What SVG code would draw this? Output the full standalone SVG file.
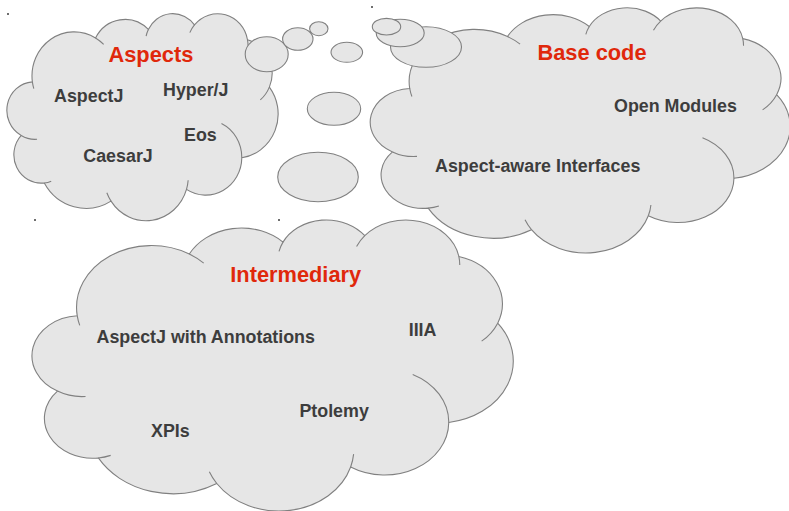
<svg xmlns="http://www.w3.org/2000/svg" xmlns:xlink="http://www.w3.org/1999/xlink" width="789" height="511" viewBox="0 0 789 511">
  <style>
    .shape { fill: #e6e6e6; stroke: #808080; stroke-width: 1.1; vector-effect: non-scaling-stroke; }
    .seam { fill: none; stroke: #808080; stroke-width: 1.1; vector-effect: non-scaling-stroke; }
    .bubble { fill: #e6e6e6; stroke: #808080; stroke-width: 1.1; }
    .title { font-family: "Liberation Sans", Arial, sans-serif; font-weight: bold; font-size: 21.8px; fill: #e0280b; }
    .item { font-family: "Liberation Sans", Arial, sans-serif; font-weight: bold; font-size: 17.85px; fill: #3d3d3d; }
    .mark { fill: #6e6e6e; }
  </style>
  <defs>
    <!-- cloud outline in a 43200 x 43200 unit box -->
    <path id="cloud" class="shape" d="M3900 14370 A6753 9190 0 0 1 14006 5203 A5333 7267 0 0 1 22457 3433 A4365 5945 0 0 1 29834 2482 A4857 6595 0 0 1 38319 5577 A5333 7273 0 0 1 41820 15461 A6775 9220 0 0 1 37406 30205 A5785 7867 0 0 1 28558 36815 A6752 9215 0 0 1 16483 39266 A7720 10543 0 0 1 5807 35471 A4360 5918 0 0 1 2116 25549 A4345 5945 0 0 1 3900 14370 Z"/>
    <!-- short lobe continuations inside the cloud -->
    <path id="cloud-seams" class="seam" d="M4649 26346 A4345 5945 0 0 1 2116 25549 M6915 35090 A4360 5918 0 0 1 5807 35471 M16483 39266 A6752 9215 0 0 1 15814 37525 M28825 34906 A6752 9215 0 0 1 28558 36815 M34155 23070 A5785 7867 0 0 1 37406 30205 M41820 15461 A5333 7273 0 0 1 40371 18137 M38319 5577 A4857 6595 0 0 1 38396 6840 M29092 4094 A4857 6595 0 0 1 29834 2482 M22098 4822 A4365 5945 0 0 1 22457 3433 M14006 5203 A6753 9190 0 0 1 15306 6551 M4127 15789 A6753 9190 0 0 1 3900 14370"/>
  </defs>

  <rect width="789" height="511" fill="#ffffff"/>

  <!-- corner marks -->
  <rect class="mark" x="7" y="13" width="2" height="2"/>
  <rect class="mark" x="34" y="219" width="2" height="2"/>
  <rect class="mark" x="278" y="219" width="2" height="2"/>
  <rect class="mark" x="371" y="6" width="2" height="2"/>

  <g id="aspects">
    <use xlink:href="#cloud" transform="translate(8 13) scale(0.00625 0.0047917)"/>
    <use xlink:href="#cloud-seams" transform="translate(8 13) scale(0.00625 0.0047917)"/>
    <text class="title" x="108.5" y="61.7">Aspects</text>
    <text class="item" x="54" y="101.7">AspectJ</text>
    <text class="item" x="163" y="96">Hyper/J</text>
    <text class="item" x="184" y="140.7">Eos</text>
    <text class="item" x="83.3" y="161.7">CaesarJ</text>
  </g>

  <g id="base-code">
    <use xlink:href="#cloud" transform="translate(372 7) scale(0.0096759 0.0056713)"/>
    <use xlink:href="#cloud-seams" transform="translate(372 7) scale(0.0096759 0.0056713)"/>
    <text class="title" x="537.5" y="60">Base code</text>
    <text class="item" x="614" y="112.3">Open Modules</text>
    <text class="item" x="435" y="171.7">Aspect-aware Interfaces</text>
  </g>

  <g id="intermediary">
    <use xlink:href="#cloud" transform="translate(34 219) scale(0.011088 0.0067361)"/>
    <use xlink:href="#cloud-seams" transform="translate(34 219) scale(0.011088 0.0067361)"/>
    <text class="title" x="230.3" y="281.7">Intermediary</text>
    <text class="item" x="96.5" y="343.3">AspectJ with Annotations</text>
    <text class="item" x="408.7" y="336">IIIA</text>
    <text class="item" x="299.4" y="416.7">Ptolemy</text>
    <text class="item" x="151" y="436.7">XPIs</text>
  </g>

  <!-- thought-bubble tails, largest first -->
  <g id="connectors">
    <g id="aspects-tail">
      <ellipse class="bubble" cx="266.7" cy="54.2" rx="21.5" ry="17.5"/>
      <ellipse class="bubble" cx="297.8" cy="39" rx="15.2" ry="11.3"/>
      <ellipse class="bubble" cx="318.8" cy="28.7" rx="9.2" ry="7"/>
    </g>
    <g id="intermediary-tail">
      <ellipse class="bubble" cx="318" cy="177" rx="40.3" ry="24.7"/>
      <ellipse class="bubble" cx="334" cy="108.8" rx="26.7" ry="16.5"/>
      <ellipse class="bubble" cx="346.8" cy="52.3" rx="15.8" ry="10"/>
    </g>
    <g id="base-code-tail">
      <ellipse class="bubble" cx="426" cy="47" rx="35.5" ry="20.3"/>
      <ellipse class="bubble" cx="400.2" cy="33" rx="24" ry="13.7"/>
      <ellipse class="bubble" cx="386.5" cy="26.7" rx="14.2" ry="8.3"/>
    </g>
  </g>
</svg>
